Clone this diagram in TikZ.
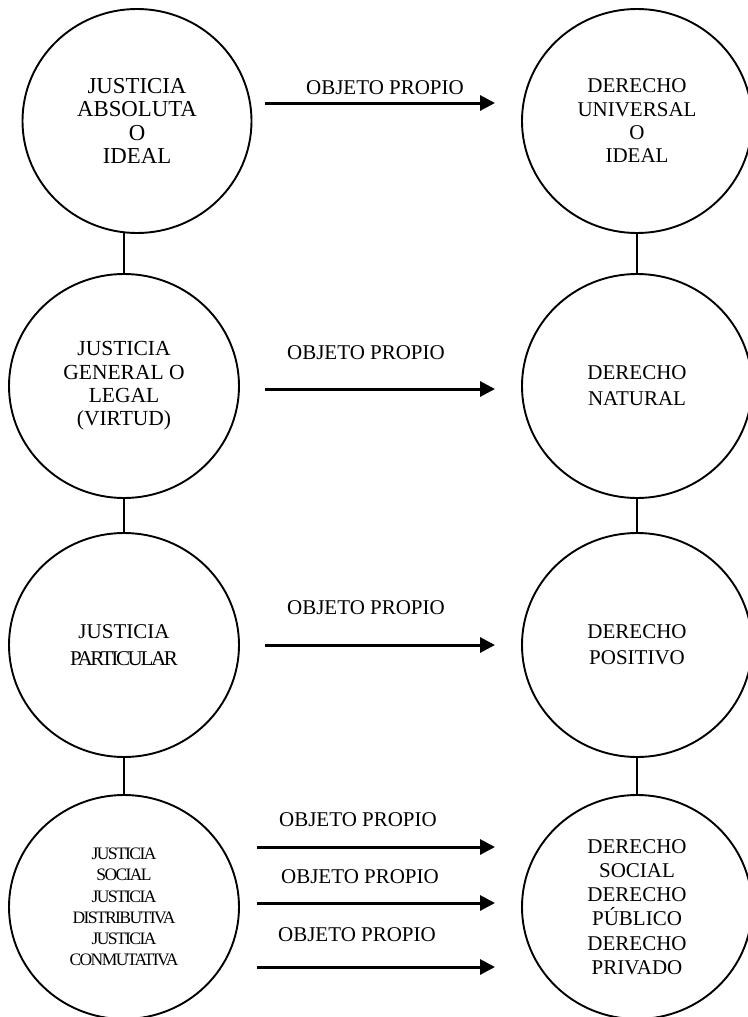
\documentclass[tikz,border=0pt]{standalone}
\usepackage{fontspec}
\setmainfont{Liberation Serif}
\usetikzlibrary{arrows.meta,shapes.geometric}
\begin{document}
\begin{tikzpicture}[x=1pt,y=-1pt,
  circ/.style={draw, ellipse, line width=1.9pt, minimum width=230pt, minimum height=224pt,
    inner sep=0pt, outer sep=0pt, align=center, font=\fontsize{21}{25.5}\selectfont},
  conn/.style={line width=1.6pt},
  arr/.style={line width=3pt, -{Triangle[length=15pt,width=15pt]}},
  lbl/.style={inner sep=0pt, font=\fontsize{21}{23}\selectfont}
]
\useasboundingbox (0,0) rectangle (747,1017);
% left column
\node[circ, minimum width=229pt, font=\fontsize{22.8}{23.2}\selectfont] (c1) at (137,121)
  {JUSTICIA\\ABSOLUTA\\O\\IDEAL};
\node[circ, font=\fontsize{21.5}{23.3}\selectfont] (c2) at (124,386)
  {JUSTICIA\\GENERAL O\\LEGAL\\(VIRTUD)};
\node[circ, font=\fontsize{21}{26.5}\selectfont] (c3) at (124,645)
  {JUSTICIA\\{\addfontfeature{LetterSpace=-11}PARTICULAR}};
\node[circ, font=\fontsize{17.5}{21.3}\selectfont\addfontfeature{LetterSpace=-9}] (c4) at (124,907)
  {JUSTICIA\\SOCIAL\\JUSTICIA\\DISTRIBUTIVA\\JUSTICIA\\CONMUTATIVA};
% right column
\node[circ, font=\fontsize{21}{23.3}\selectfont] (r1) at (637,121)
  {DERECHO\\UNIVERSAL\\O\\IDEAL};
\node[circ, font=\fontsize{21}{26}\selectfont] (r2) at (637,386)
  {DERECHO\\NATURAL};
\node[circ, font=\fontsize{21}{26}\selectfont] (r3) at (637,645)
  {DERECHO\\POSITIVO};
\node[circ, font=\fontsize{21}{24.3}\selectfont] (r4) at (637,907)
  {DERECHO\\SOCIAL\\DERECHO\\PÚBLICO\\DERECHO\\PRIVADO};
% vertical connectors
\draw[conn] (c2.north) -- (c2.north |- c1.south);
\draw[conn] (c2.south) -- (c3.north);
\draw[conn] (c3.south) -- (c4.north);
\draw[conn] (r1.south) -- (r2.north);
\draw[conn] (r2.south) -- (r3.north);
\draw[conn] (r3.south) -- (r4.north);
% arrows
\coordinate (a1s) at (265,103); \coordinate (a1e) at (495,103);
\coordinate (a2s) at (265,389); \coordinate (a2e) at (495,389);
\coordinate (a3s) at (265,645); \coordinate (a3e) at (495,645);
\coordinate (a4s) at (257,847); \coordinate (a4e) at (495,847);
\coordinate (a5s) at (257,903); \coordinate (a5e) at (495,903);
\coordinate (a6s) at (257,967); \coordinate (a6e) at (495,967);
\draw[arr] (a1s) -- (a1e);
\draw[arr] (a2s) -- (a2e);
\draw[arr] (a3s) -- (a3e);
\draw[arr] (a4s) -- (a4e);
\draw[arr] (a5s) -- (a5e);
\draw[arr] (a6s) -- (a6e);
% labels
\node[lbl] (l1) at (385,88) {OBJETO PROPIO};
\node[lbl] (l2) at (366,353) {OBJETO PROPIO};
\node[lbl] (l3) at (366,608) {OBJETO PROPIO};
\node[lbl] (l4) at (358,820) {OBJETO PROPIO};
\node[lbl] (l5) at (360,877) {OBJETO PROPIO};
\node[lbl] (l6) at (357,935) {OBJETO PROPIO};
\end{tikzpicture}
\end{document}
